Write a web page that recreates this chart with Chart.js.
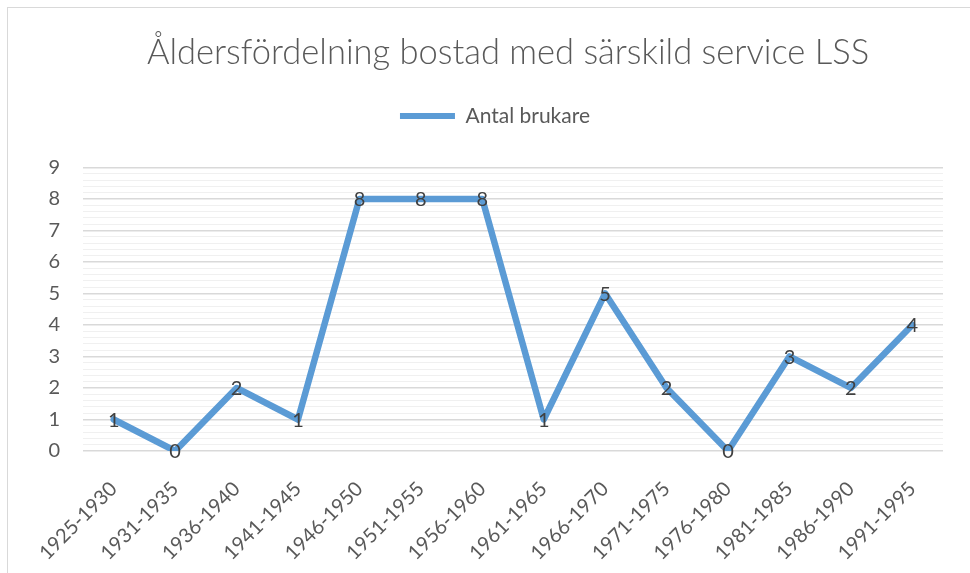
<!DOCTYPE html>
<html>
<head>
<meta charset="utf-8">
<script src="https://cdn.jsdelivr.net/npm/chart.js@4.4.1/dist/chart.umd.min.js"></script>
<style>
  html, body { margin: 0; padding: 0; width: 970px; height: 573px; overflow: hidden; background: #fff; }
  #frame { position: absolute; left: 7px; top: 7px; width: 1100px; height: 700px; border: 1px solid #d9d9d9; box-sizing: border-box; }
  #wrap { position: absolute; left: 7px; top: 7px; width: 1002px; height: 566px; }
</style>
</head>
<body>
<div id="frame"></div>
<div id="wrap"><canvas id="c" width="1002" height="566"></canvas></div>
<script>
const titleText = 'Åldersfördelning bostad med särskild service LSS';
const seriesName = 'Antal brukare';
const categories = ['1925-1930','1931-1935','1936-1940','1941-1945','1946-1950','1951-1955','1956-1960','1961-1965','1966-1970','1971-1975','1976-1980','1981-1985','1986-1990','1991-1995'];
const values = [1, 0, 2, 1, 8, 8, 8, 1, 5, 2, 0, 3, 2, 4];
const yMin = 0, yMax = 9, minorStep = 0.2;

const FONT = 'Lato, "Open Sans", sans-serif';
const LINE_COLOR = '#5b9bd5';

const isMajor = v => Math.abs(v - Math.round(v)) < 1e-6;

const dataLabels = {
  id: 'dataLabels',
  afterDatasetsDraw(chart) {
    const ctx = chart.ctx;
    const meta = chart.getDatasetMeta(0);
    const ds = chart.data.datasets[0];
    ctx.save();
    ctx.font = '20px ' + FONT;
    ctx.fillStyle = '#404040';
    ctx.textAlign = 'center';
    ctx.textBaseline = 'middle';
    meta.data.forEach((pt, i) => {
      ctx.fillText(String(ds.data[i]), pt.x, pt.y + 1);
    });
    ctx.restore();
  }
};

const legendTweak = {
  id: 'legendTweak',
  afterInit(chart) {
    const lg = chart.legend;
    if (!lg) return;
    const f = lg.fit.bind(lg);
    lg.fit = function () { f(); this.height += 31; };
    const d = lg.draw.bind(lg);
    lg.draw = function () { const r = this.right; this.right -= 26; d(); this.right = r; };
  }
};

new Chart(document.getElementById('c'), {
  type: 'line',
  data: {
    labels: categories,
    datasets: [{
      label: seriesName,
      data: values,
      borderColor: LINE_COLOR,
      backgroundColor: LINE_COLOR,
      borderWidth: 6.5,
      pointRadius: 0,
      pointHoverRadius: 0,
      tension: 0,
      borderCapStyle: 'round',
      borderJoinStyle: 'round'
    }]
  },
  plugins: [dataLabels, legendTweak],
  options: {
    responsive: false,
    animation: false,
    events: [],
    layout: { padding: 0 },
    plugins: {
      title: {
        display: true,
        text: titleText,
        color: '#595959',
        font: { family: FONT, size: 34.5, weight: '300' },
        padding: { top: 25, bottom: 22 }
      },
      legend: {
        display: true,
        position: 'top',
        labels: {
          color: '#595959',
          font: { family: FONT, size: 21 },
          boxWidth: 55,
          boxHeight: 6,
          padding: 10,
          generateLabels(chart) {
            return [{
              text: seriesName,
              fillStyle: LINE_COLOR,
              strokeStyle: LINE_COLOR,
              lineWidth: 0,
              datasetIndex: 0,
              fontColor: '#595959'
            }];
          }
        }
      },
      tooltip: { enabled: false }
    },
    scales: {
      x: {
        offset: true,
        grid: { display: false, drawTicks: false },
        border: { display: false },
        ticks: {
          autoSkip: false,
          minRotation: 45,
          maxRotation: 45,
          padding: 26,
          color: '#595959',
          font: { family: FONT, size: 20 }
        },
        afterFit(scale) { scale.height = 122; }
      },
      y: {
        min: yMin,
        max: yMax,
        grid: {
          drawTicks: false,
          color: ctx => isMajor(ctx.tick.value) ? '#d9d9d9' : '#f0f0f0',
          lineWidth: ctx => isMajor(ctx.tick.value) ? 1.5 : 1
        },
        border: { display: false },
        ticks: {
          stepSize: minorStep,
          autoSkip: false,
          padding: 23,
          color: '#595959',
          font: { family: FONT, size: 20 },
          callback: v => isMajor(v) ? String(Math.round(v)) : ''
        },
        afterFit(scale) { scale.width = 76; }
      },
      spacer: {
        type: 'linear',
        axis: 'y',
        position: 'right',
        display: true,
        grid: { display: false, drawTicks: false },
        border: { display: false },
        ticks: { display: false },
        afterFit(scale) { scale.width = 66; }
      }
    }
  }
});
</script>
</body>
</html>
